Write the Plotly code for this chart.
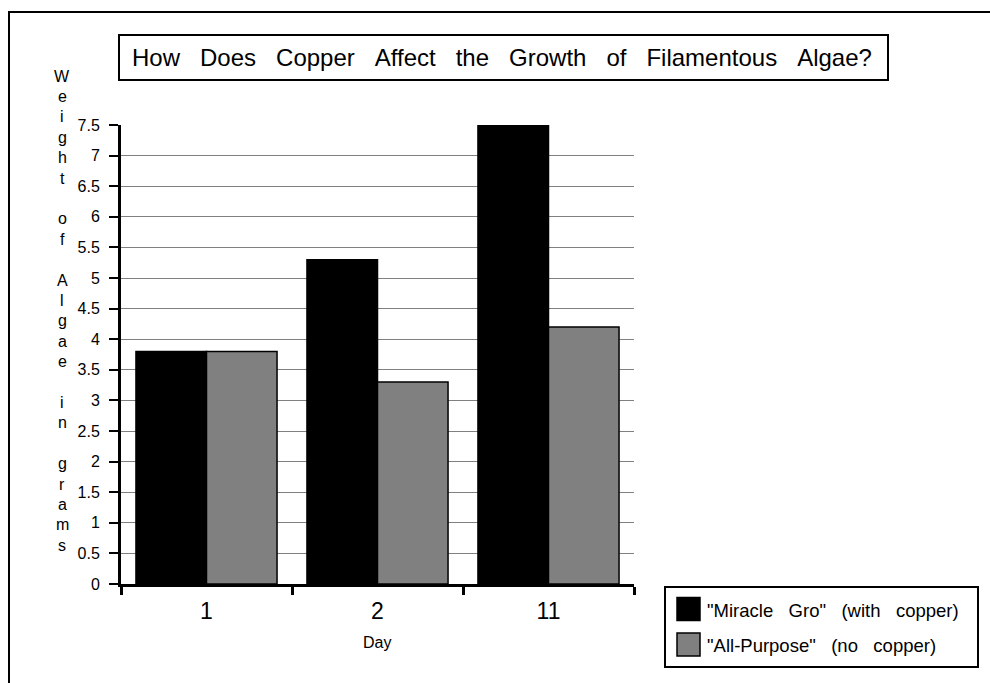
import plotly.graph_objects as go

# ---- data ----
days = ["1", "2", "11"]
miracle_gro = [3.8, 5.3, 7.5]
all_purpose = [3.8, 3.3, 4.2]
GAP2 = "\u00a0\u00a0\u00a0"
series_names = ['"Miracle' + GAP2 + 'Gro"' + GAP2 + '(with' + GAP2 + 'copper)',
                '"All-Purpose"' + GAP2 + '(no' + GAP2 + 'copper)']
series_colors = ["#000000", "#808080"]
title_words = ["How", "Does", "Copper", "Affect", "the", "Growth", "of", "Filamentous", "Algae?"]
title_text = "\u00a0\u00a0\u00a0".join(title_words)
y_title = "Weight of Algae in grams"
x_title = "Day"

W, H = 990, 683
L, R, T, B = 121, 356, 125, 99
PW, PH = W - L - R, H - T - B
FONT = "Liberation Sans, Arial, sans-serif"

def px(x):
    return (x - L) / PW

def py(y):
    return (H - B - y) / PH

fig = go.Figure()
for name, vals, col in zip(series_names, [miracle_gro, all_purpose], series_colors):
    fig.add_trace(go.Bar(x=days, y=vals, name=name, marker=dict(color=col, line=dict(color="black", width=1.5)),
                         showlegend=False))

shapes = []
annotations = []

# outer frame
shapes.append(dict(type="rect", xref="paper", yref="paper", x0=px(9), x1=px(1010), y0=py(12), y1=py(700),
                   line=dict(color="black", width=2), fillcolor="rgba(0,0,0,0)", layer="below"))
# title box
shapes.append(dict(type="rect", xref="paper", yref="paper", x0=px(119), x1=px(888), y0=py(80), y1=py(35),
                   line=dict(color="black", width=2), fillcolor="white"))
annotations.append(dict(text=title_text, xref="paper", yref="paper", x=px(502), y=py(58), showarrow=False,
                        xanchor="center", yanchor="middle", font=dict(family=FONT, size=24, color="black")))

# vertical y title (stacked letters)
for i, ch in enumerate(y_title):
    if ch == " ":
        continue
    annotations.append(dict(text=ch, xref="paper", yref="paper", x=px(62), y=py(76 + i * 20.4), showarrow=False,
                            xanchor="center", yanchor="middle", font=dict(family=FONT, size=16, color="black")))

# x title
annotations.append(dict(text=x_title, xref="paper", yref="paper", x=px(377), y=py(642), showarrow=False,
                        xanchor="center", yanchor="middle", font=dict(family=FONT, size=16, color="black")))

# legend (manual)
shapes.append(dict(type="rect", xref="paper", yref="paper", x0=px(665), x1=px(978), y0=py(667), y1=py(587),
                   line=dict(color="black", width=2), fillcolor="white"))
for i, (name, col) in enumerate(zip(series_names, series_colors)):
    cy = 609 + i * 35.5
    shapes.append(dict(type="rect", xref="paper", yref="paper", x0=px(677), x1=px(700), y0=py(cy + 11.5), y1=py(cy - 11.5),
                       line=dict(color="black", width=1.5), fillcolor=col))
    annotations.append(dict(text=name, xref="paper", yref="paper", x=px(705), y=py(cy + 1), showarrow=False,
                            xanchor="left", yanchor="middle", font=dict(family=FONT, size=18.5, color="black")))

fig.update_layout(
    width=W, height=H,
    margin=dict(l=L, r=R, t=T, b=B, pad=0),
    paper_bgcolor="white", plot_bgcolor="white",
    barmode="group", bargap=0.175, bargroupgap=0,
    showlegend=False,
    shapes=shapes, annotations=annotations,
    font=dict(family=FONT, color="black"),
    xaxis=dict(type="category", categoryorder="array", categoryarray=days,
               showline=True, linecolor="black", linewidth=3,
               ticks="outside", tickson="boundaries", ticklen=8, tickwidth=3, tickcolor="black",
               ticklabelstandoff=4,
               tickfont=dict(size=23, family=FONT), showgrid=False, zeroline=False),
    yaxis=dict(range=[0, 7.5], dtick=0.5, tick0=0,
               showline=True, linecolor="black", linewidth=3,
               ticks="outside", ticklen=9, tickwidth=1.5, tickcolor="black",
               ticklabelstandoff=6,
               tickfont=dict(size=16, family=FONT),
               showgrid=True, gridcolor="#808080", gridwidth=1, zeroline=False),
)

fig.write_html("out.html")
